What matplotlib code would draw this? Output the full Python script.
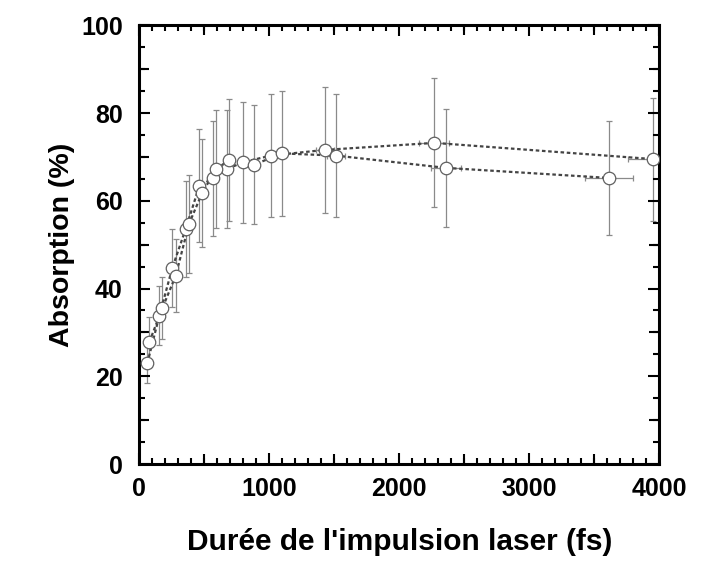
import numpy as np
import matplotlib
matplotlib.use("Agg")
import matplotlib.pyplot as plt
from matplotlib.ticker import MultipleLocator

plt.rcParams['font.family'] = ['Liberation Sans', 'DejaVu Sans']

# ── data (two interleaved series) ────────────────────────────────────────────
dur_a = [62, 154, 254, 357, 462, 565, 672, 800, 1011, 1428, 2270, 3954]
abs_a = [23.0, 33.8, 44.7, 53.6, 63.4, 65.1, 67.2, 68.8, 70.3, 71.6, 73.2, 69.5]
yerr_a = [4.6, 6.7, 8.8, 10.9, 12.9, 13.1, 13.4, 13.8, 14.0, 14.4, 14.7, 14.0]
xerr_a = [0, 0, 0, 0, 0, 0, 0, 0, 0, 70, 115, 197]

dur_b = [77, 177, 280, 382, 482, 590, 692, 882, 1095, 1513, 2359, 3615]
abs_b = [27.8, 35.5, 42.9, 54.7, 61.7, 67.2, 69.3, 68.2, 70.8, 70.3, 67.5, 65.2]
yerr_b = [5.8, 7.1, 8.3, 11.2, 12.3, 13.4, 14.0, 13.6, 14.3, 14.1, 13.5, 13.0]
xerr_b = [0, 0, 0, 0, 0, 0, 0, 0, 0, 70, 115, 185]

fig = plt.figure(figsize=(7.27, 5.61), dpi=100)
ax = fig.add_axes([0.1916, 0.1729, 0.7153, 0.782])

for d, a, ye, xe in [(dur_a, abs_a, yerr_a, xerr_a), (dur_b, abs_b, yerr_b, xerr_b)]:
    ax.errorbar(d, a, yerr=ye, xerr=xe, fmt='none', ecolor='#8a8a8a',
                elinewidth=0.9, capsize=2.5, capthick=0.9, zorder=1)
    ax.plot(d, a, color='#444444', lw=1.6, dashes=(1.6, 1.2), zorder=2)
    ax.plot(d, a, 'o', ms=9, mfc='white', mec='#606060', mew=0.9, zorder=3)

ax.set_xlim(0, 4000)
ax.set_ylim(0, 100)
ax.xaxis.set_major_locator(MultipleLocator(1000))
ax.xaxis.set_minor_locator(MultipleLocator(100))
ax.yaxis.set_major_locator(MultipleLocator(20))
ax.yaxis.set_minor_locator(MultipleLocator(5))

ax.tick_params(which='both', direction='in', top=True, right=True, width=1.5, color='black')
ax.tick_params(which='major', length=8, labelsize=18)
ax.tick_params(axis='x', which='major', pad=9)
ax.tick_params(axis='y', which='major', pad=12)
ax.tick_params(which='minor', length=4.5)
for lbl in ax.get_xticklabels() + ax.get_yticklabels():
    lbl.set_fontweight('bold')

# intermediate longer ticks every 500 fs and 10 %
sec = ax.secondary_xaxis('bottom')
sec.set_xticks(np.arange(500, 4000, 1000))
sec.tick_params(direction='in', length=7, width=1.5, labelbottom=False)
sec.spines['bottom'].set_visible(False)
sec_t = ax.secondary_xaxis('top')
sec_t.set_xticks(np.arange(500, 4000, 1000))
sec_t.tick_params(direction='in', length=7, width=1.5, labeltop=False)
sec_t.spines['top'].set_visible(False)
sec_l = ax.secondary_yaxis('left')
sec_l.set_yticks(np.arange(10, 100, 20))
sec_l.tick_params(direction='in', length=7, width=1.5, labelleft=False)
sec_l.spines['left'].set_visible(False)
sec_r = ax.secondary_yaxis('right')
sec_r.set_yticks(np.arange(10, 100, 20))
sec_r.tick_params(direction='in', length=7, width=1.5, labelright=False)
sec_r.spines['right'].set_visible(False)

for s in ax.spines.values():
    s.set_linewidth(2.2)

ax.set_xlabel("Durée de l'impulsion laser (fs)", fontsize=21.5, fontweight='bold', labelpad=20)
ax.set_ylabel("Absorption (%)", fontsize=20.5, fontweight='bold', labelpad=4)

fig.savefig("out.png", dpi=100, facecolor='white')
